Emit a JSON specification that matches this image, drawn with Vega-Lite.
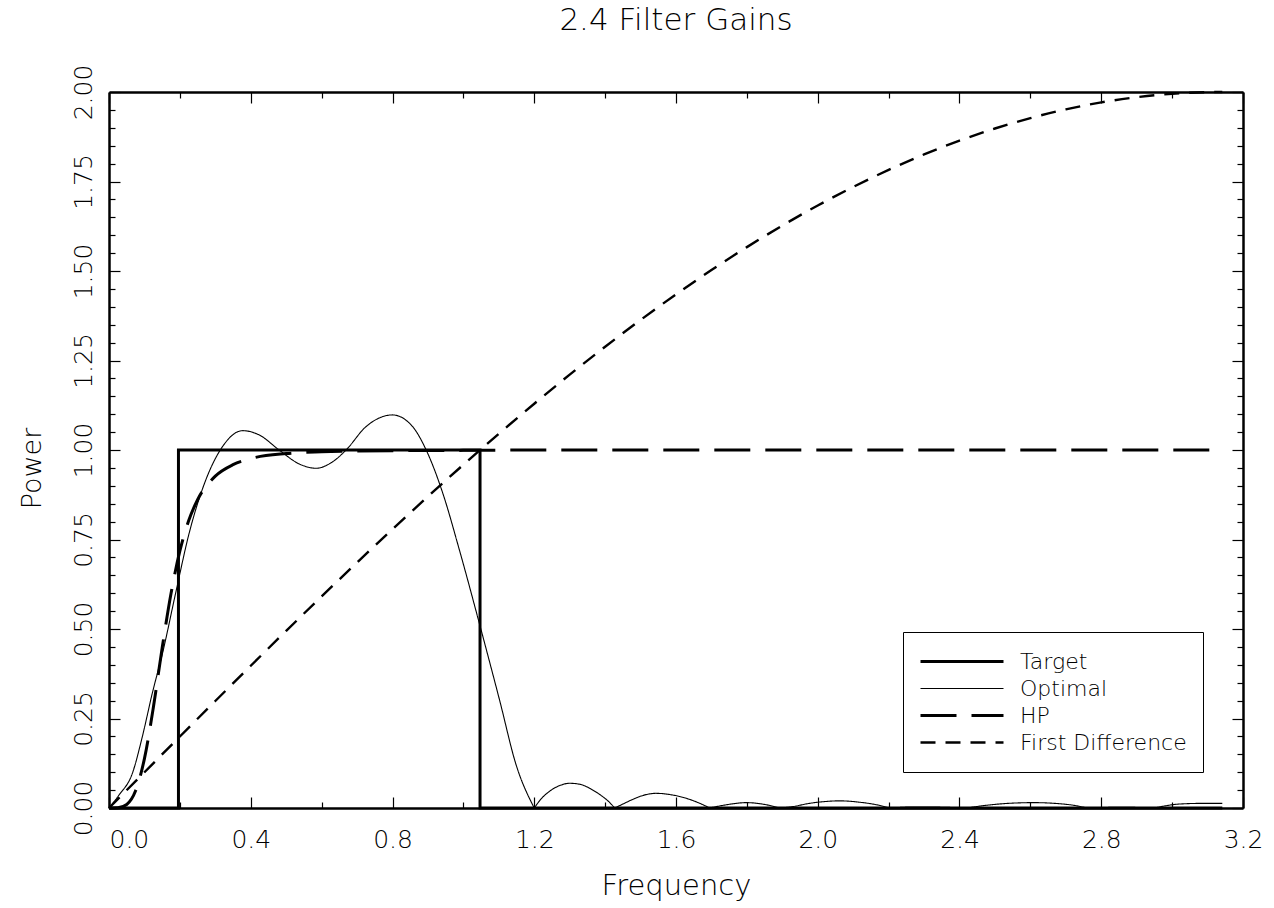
{
  "$schema": "https://vega.github.io/schema/vega-lite/v6.json",
  "width": 1134,
  "height": 716,
  "autosize": {"type": "none"},
  "padding": {"left": 109, "top": 92, "right": 31, "bottom": 100},
  "background": "white",
  "title": {"text": "2.4 Filter Gains", "fontSize": 31, "fontWeight": 200, "font": "DejaVu Sans", "anchor": "middle", "baseline": "alphabetic", "offset": 25, "dy": 22, "color": "black"},
  "data": {"values": [
    {"s": "Target", "seg": "t", "i": 0, "x": 0, "y": 0},
    {"s": "Target", "seg": "t", "i": 1, "x": 0.196, "y": 0},
    {"s": "Target", "seg": "t", "i": 2, "x": 0.196, "y": 1},
    {"s": "Target", "seg": "t", "i": 3, "x": 1.047, "y": 1},
    {"s": "Target", "seg": "t", "i": 4, "x": 1.047, "y": 0},
    {"s": "Target", "seg": "t", "i": 5, "x": 3.1416, "y": 0},

    {"s": "Optimal", "seg": "o1", "x": 0, "y": 0},
    {"s": "Optimal", "seg": "o1", "x": 0.028, "y": 0.036},
    {"s": "Optimal", "seg": "o1", "x": 0.066, "y": 0.097},
    {"s": "Optimal", "seg": "o1", "x": 0.094, "y": 0.199},
    {"s": "Optimal", "seg": "o1", "x": 0.122, "y": 0.32},
    {"s": "Optimal", "seg": "o1", "x": 0.151, "y": 0.432},
    {"s": "Optimal", "seg": "o1", "x": 0.188, "y": 0.6},
    {"s": "Optimal", "seg": "o1", "x": 0.226, "y": 0.767},
    {"s": "Optimal", "seg": "o1", "x": 0.273, "y": 0.916},
    {"s": "Optimal", "seg": "o1", "x": 0.32, "y": 1.009},
    {"s": "Optimal", "seg": "o1", "x": 0.377, "y": 1.054},
    {"s": "Optimal", "seg": "o1", "x": 0.424, "y": 1.042},
    {"s": "Optimal", "seg": "o1", "x": 0.48, "y": 1.0},
    {"s": "Optimal", "seg": "o1", "x": 0.537, "y": 0.961},
    {"s": "Optimal", "seg": "o1", "x": 0.584, "y": 0.949},
    {"s": "Optimal", "seg": "o1", "x": 0.631, "y": 0.967},
    {"s": "Optimal", "seg": "o1", "x": 0.669, "y": 1.0},
    {"s": "Optimal", "seg": "o1", "x": 0.725, "y": 1.065},
    {"s": "Optimal", "seg": "o1", "x": 0.8, "y": 1.098},
    {"s": "Optimal", "seg": "o1", "x": 0.857, "y": 1.065},
    {"s": "Optimal", "seg": "o1", "x": 0.895, "y": 1.0},
    {"s": "Optimal", "seg": "o1", "x": 0.942, "y": 0.879},
    {"s": "Optimal", "seg": "o1", "x": 0.989, "y": 0.72},
    {"s": "Optimal", "seg": "o1", "x": 1.045, "y": 0.516},
    {"s": "Optimal", "seg": "o1", "x": 1.102, "y": 0.302},
    {"s": "Optimal", "seg": "o1", "x": 1.149, "y": 0.12},
    {"s": "Optimal", "seg": "o1", "x": 1.2, "y": 0},

    {"s": "Optimal", "seg": "o2", "x": 1.2, "y": 0},
    {"s": "Optimal", "seg": "o2", "x": 1.22, "y": 0.026},
    {"s": "Optimal", "seg": "o2", "x": 1.245, "y": 0.048},
    {"s": "Optimal", "seg": "o2", "x": 1.27, "y": 0.062},
    {"s": "Optimal", "seg": "o2", "x": 1.3, "y": 0.069},
    {"s": "Optimal", "seg": "o2", "x": 1.33, "y": 0.066},
    {"s": "Optimal", "seg": "o2", "x": 1.36, "y": 0.053},
    {"s": "Optimal", "seg": "o2", "x": 1.39, "y": 0.034},
    {"s": "Optimal", "seg": "o2", "x": 1.41, "y": 0.018},
    {"s": "Optimal", "seg": "o2", "x": 1.427, "y": 0},

    {"s": "Optimal", "seg": "o3", "x": 1.427, "y": 0},
    {"s": "Optimal", "seg": "o3", "x": 1.45, "y": 0.011},
    {"s": "Optimal", "seg": "o3", "x": 1.478, "y": 0.024},
    {"s": "Optimal", "seg": "o3", "x": 1.51, "y": 0.036},
    {"s": "Optimal", "seg": "o3", "x": 1.544, "y": 0.041},
    {"s": "Optimal", "seg": "o3", "x": 1.58, "y": 0.038},
    {"s": "Optimal", "seg": "o3", "x": 1.629, "y": 0.027},
    {"s": "Optimal", "seg": "o3", "x": 1.665, "y": 0.014},
    {"s": "Optimal", "seg": "o3", "x": 1.695, "y": 0},

    {"s": "Optimal", "seg": "o4", "x": 1.695, "y": 0},
    {"s": "Optimal", "seg": "o4", "x": 1.742, "y": 0.009},
    {"s": "Optimal", "seg": "o4", "x": 1.799, "y": 0.015},
    {"s": "Optimal", "seg": "o4", "x": 1.855, "y": 0.009},
    {"s": "Optimal", "seg": "o4", "x": 1.893, "y": 0},

    {"s": "Optimal", "seg": "o5", "x": 1.893, "y": 0},
    {"s": "Optimal", "seg": "o5", "x": 1.93, "y": 0.004},
    {"s": "Optimal", "seg": "o5", "x": 1.977, "y": 0.013},
    {"s": "Optimal", "seg": "o5", "x": 2.02, "y": 0.018},
    {"s": "Optimal", "seg": "o5", "x": 2.062, "y": 0.02},
    {"s": "Optimal", "seg": "o5", "x": 2.119, "y": 0.016},
    {"s": "Optimal", "seg": "o5", "x": 2.166, "y": 0.009},
    {"s": "Optimal", "seg": "o5", "x": 2.203, "y": 0},

    {"s": "Optimal", "seg": "o6", "x": 2.203, "y": 0},
    {"s": "Optimal", "seg": "o6", "x": 2.28, "y": 0.003},
    {"s": "Optimal", "seg": "o6", "x": 2.36, "y": 0.002},
    {"s": "Optimal", "seg": "o6", "x": 2.42, "y": 0},

    {"s": "Optimal", "seg": "o7", "x": 2.42, "y": 0},
    {"s": "Optimal", "seg": "o7", "x": 2.48, "y": 0.008},
    {"s": "Optimal", "seg": "o7", "x": 2.523, "y": 0.012},
    {"s": "Optimal", "seg": "o7", "x": 2.608, "y": 0.015},
    {"s": "Optimal", "seg": "o7", "x": 2.712, "y": 0.009},
    {"s": "Optimal", "seg": "o7", "x": 2.759, "y": 0},

    {"s": "Optimal", "seg": "o8", "x": 2.759, "y": 0},
    {"s": "Optimal", "seg": "o8", "x": 2.86, "y": 0.002},
    {"s": "Optimal", "seg": "o8", "x": 2.95, "y": 0},

    {"s": "Optimal", "seg": "o9", "x": 2.95, "y": 0},
    {"s": "Optimal", "seg": "o9", "x": 3.02, "y": 0.011},
    {"s": "Optimal", "seg": "o9", "x": 3.088, "y": 0.013},
    {"s": "Optimal", "seg": "o9", "x": 3.1416, "y": 0.013},

    {"s": "HP", "seg": "hp", "x": 0, "y": 0},
    {"s": "HP", "seg": "hp", "x": 0.025, "y": 0.0006},
    {"s": "HP", "seg": "hp", "x": 0.05, "y": 0.0099},
    {"s": "HP", "seg": "hp", "x": 0.075, "y": 0.048},
    {"s": "HP", "seg": "hp", "x": 0.1, "y": 0.138},
    {"s": "HP", "seg": "hp", "x": 0.125, "y": 0.28},
    {"s": "HP", "seg": "hp", "x": 0.15, "y": 0.447},
    {"s": "HP", "seg": "hp", "x": 0.175, "y": 0.599},
    {"s": "HP", "seg": "hp", "x": 0.2, "y": 0.718},
    {"s": "HP", "seg": "hp", "x": 0.225, "y": 0.803},
    {"s": "HP", "seg": "hp", "x": 0.25, "y": 0.861},
    {"s": "HP", "seg": "hp", "x": 0.3, "y": 0.927},
    {"s": "HP", "seg": "hp", "x": 0.35, "y": 0.959},
    {"s": "HP", "seg": "hp", "x": 0.4, "y": 0.976},
    {"s": "HP", "seg": "hp", "x": 0.5, "y": 0.99},
    {"s": "HP", "seg": "hp", "x": 0.6, "y": 0.995},
    {"s": "HP", "seg": "hp", "x": 0.7, "y": 0.997},
    {"s": "HP", "seg": "hp", "x": 0.8, "y": 0.998},
    {"s": "HP", "seg": "hp", "x": 1.0, "y": 0.999},
    {"s": "HP", "seg": "hp", "x": 1.2, "y": 1.0},
    {"s": "HP", "seg": "hp", "x": 1.6, "y": 1.0},
    {"s": "HP", "seg": "hp", "x": 2.0, "y": 1.0},
    {"s": "HP", "seg": "hp", "x": 2.4, "y": 1.0},
    {"s": "HP", "seg": "hp", "x": 2.8, "y": 1.0},
    {"s": "HP", "seg": "hp", "x": 3.1416, "y": 1.0},

    {"s": "First Difference", "seg": "fd", "x": 0, "y": 0},
    {"s": "First Difference", "seg": "fd", "x": 0.1, "y": 0.0999},
    {"s": "First Difference", "seg": "fd", "x": 0.2, "y": 0.1997},
    {"s": "First Difference", "seg": "fd", "x": 0.3, "y": 0.2989},
    {"s": "First Difference", "seg": "fd", "x": 0.4, "y": 0.3973},
    {"s": "First Difference", "seg": "fd", "x": 0.5, "y": 0.4948},
    {"s": "First Difference", "seg": "fd", "x": 0.6, "y": 0.591},
    {"s": "First Difference", "seg": "fd", "x": 0.7, "y": 0.6857},
    {"s": "First Difference", "seg": "fd", "x": 0.8, "y": 0.7788},
    {"s": "First Difference", "seg": "fd", "x": 0.9, "y": 0.87},
    {"s": "First Difference", "seg": "fd", "x": 1.0, "y": 0.9589},
    {"s": "First Difference", "seg": "fd", "x": 1.1, "y": 1.0453},
    {"s": "First Difference", "seg": "fd", "x": 1.2, "y": 1.1293},
    {"s": "First Difference", "seg": "fd", "x": 1.3, "y": 1.2104},
    {"s": "First Difference", "seg": "fd", "x": 1.4, "y": 1.2884},
    {"s": "First Difference", "seg": "fd", "x": 1.5, "y": 1.3633},
    {"s": "First Difference", "seg": "fd", "x": 1.6, "y": 1.4347},
    {"s": "First Difference", "seg": "fd", "x": 1.7, "y": 1.5025},
    {"s": "First Difference", "seg": "fd", "x": 1.8, "y": 1.5667},
    {"s": "First Difference", "seg": "fd", "x": 1.9, "y": 1.6269},
    {"s": "First Difference", "seg": "fd", "x": 2.0, "y": 1.6829},
    {"s": "First Difference", "seg": "fd", "x": 2.1, "y": 1.7348},
    {"s": "First Difference", "seg": "fd", "x": 2.2, "y": 1.7824},
    {"s": "First Difference", "seg": "fd", "x": 2.3, "y": 1.8255},
    {"s": "First Difference", "seg": "fd", "x": 2.4, "y": 1.8641},
    {"s": "First Difference", "seg": "fd", "x": 2.5, "y": 1.898},
    {"s": "First Difference", "seg": "fd", "x": 2.6, "y": 1.9271},
    {"s": "First Difference", "seg": "fd", "x": 2.7, "y": 1.9515},
    {"s": "First Difference", "seg": "fd", "x": 2.8, "y": 1.9711},
    {"s": "First Difference", "seg": "fd", "x": 2.9, "y": 1.9854},
    {"s": "First Difference", "seg": "fd", "x": 3.0, "y": 1.995},
    {"s": "First Difference", "seg": "fd", "x": 3.1, "y": 1.9996},
    {"s": "First Difference", "seg": "fd", "x": 3.1416, "y": 2.0}
  ]},
  "resolve": {"axis": {"x": "independent", "y": "independent"}},
  "layer": [
    {
      "transform": [{"filter": "datum.s == 'Target'"}],
      "mark": {"type": "line", "color": "black", "interpolate": "linear", "strokeCap": "butt"},
      "encoding": {
        "x": {"field": "x", "type": "quantitative",
          "scale": {"domain": [0, 3.2], "nice": false, "zero": false},
          "axis": {"orient": "bottom", "title": "Frequency",
            "values": [0,0.2,0.4,0.6,0.8,1,1.2,1.4,1.6,1.8,2,2.2,2.4,2.6,2.8,3,3.2],
            "tickSize": {"expr": "abs(datum.value*2.5 - round(datum.value*2.5)) < 0.001 ? -11 : -6"},
            "labelExpr": "abs(datum.value*2.5 - round(datum.value*2.5)) < 0.001 ? format(datum.value, '.1f') : ''",
            "labelAlign": {"expr": "datum.value == 0 ? 'left' : 'center'"},
            "labelBaseline": "top", "labelPadding": 30, "labelFontSize": 25, "labelOverlap": false, "labelFlush": false,
            "titleFontSize": 29, "titleX": 567, "titleY": 77, "titleBaseline": "middle", "titleAlign": "center"}},
        "y": {"field": "y", "type": "quantitative",
          "scale": {"domain": [0, 2], "nice": false, "zero": false},
          "axis": {"orient": "left", "title": "Power",
            "values": [0,0.05,0.1,0.15,0.2,0.25,0.3,0.35,0.4,0.45,0.5,0.55,0.6,0.65,0.7,0.75,0.8,0.85,0.9,0.95,1,1.05,1.1,1.15,1.2,1.25,1.3,1.35,1.4,1.45,1.5,1.55,1.6,1.65,1.7,1.75,1.8,1.85,1.9,1.95,2],
            "tickSize": {"expr": "abs(datum.value*4 - round(datum.value*4)) < 0.001 ? -11 : -6"},
            "labelExpr": "abs(datum.value*4 - round(datum.value*4)) < 0.001 ? format(datum.value, '.2f') : ''",
            "labelAngle": 270, "labelAlign": "center", "labelBaseline": "middle", "labelPadding": 37,
            "labelFontSize": 25, "labelOverlap": false, "labelFlush": false,
            "titleFontSize": 27, "titleAngle": 270, "titleX": -77, "titleY": 376, "titleAlign": "center", "titleBaseline": "middle"}},
        "order": {"field": "i", "type": "quantitative"},
        "detail": {"field": "seg"},
        "strokeDash": {"field": "s", "type": "nominal",
          "scale": {"type": "ordinal", "domain": ["Target", "Optimal", "HP", "First Difference"], "range": [[1, 0], [1, 0], [36, 15], [15, 10]]}},
        "strokeWidth": {"field": "s", "type": "nominal",
          "scale": {"type": "ordinal", "domain": ["Target", "Optimal", "HP", "First Difference"], "range": [3, 1.1, 3, 2.4]}}
      }
    },
    {
      "transform": [{"filter": "datum.s != 'Target'"}],
      "mark": {"type": "line", "color": "black", "interpolate": "monotone", "strokeCap": "butt"},
      "encoding": {
        "x": {"field": "x", "type": "quantitative",
          "axis": {"orient": "top", "title": null, "labels": false,
            "values": [0,0.2,0.4,0.6,0.8,1,1.2,1.4,1.6,1.8,2,2.2,2.4,2.6,2.8,3,3.2],
            "tickSize": {"expr": "abs(datum.value*2.5 - round(datum.value*2.5)) < 0.001 ? -11 : -6"}}},
        "y": {"field": "y", "type": "quantitative",
          "axis": {"orient": "right", "title": null, "labels": false,
            "values": [0,0.05,0.1,0.15,0.2,0.25,0.3,0.35,0.4,0.45,0.5,0.55,0.6,0.65,0.7,0.75,0.8,0.85,0.9,0.95,1,1.05,1.1,1.15,1.2,1.25,1.3,1.35,1.4,1.45,1.5,1.55,1.6,1.65,1.7,1.75,1.8,1.85,1.9,1.95,2],
            "tickSize": {"expr": "abs(datum.value*4 - round(datum.value*4)) < 0.001 ? -11 : -6"}}},
        "detail": {"field": "seg"},
        "strokeDash": {"field": "s", "type": "nominal",
          "scale": {"type": "ordinal", "domain": ["Target", "Optimal", "HP", "First Difference"], "range": [[1, 0], [1, 0], [36, 15], [15, 10]]}},
        "strokeWidth": {"field": "s", "type": "nominal",
          "scale": {"type": "ordinal", "domain": ["Target", "Optimal", "HP", "First Difference"], "range": [3, 1.1, 3, 2.4]}}
      }
    }
  ],
  "config": {
    "font": "DejaVu Sans",
    "view": {"stroke": null},
    "axis": {"grid": false, "domainColor": "black", "domainWidth": 2.5, "tickColor": "black", "tickWidth": 1.2,
      "labelColor": "black", "titleColor": "black", "labelFont": "DejaVu Sans", "titleFont": "DejaVu Sans",
      "labelFontWeight": 200, "titleFontWeight": 200},
    "legend": {"orient": "none", "legendX": 794, "legendY": 540, "title": null,
      "strokeColor": "black", "fillColor": "white", "padding": 16, "cornerRadius": 0,
      "symbolType": "stroke", "symbolSize": 6889, "symbolStrokeColor": "black", "clipHeight": 27,
      "labelFontSize": 22, "labelLimit": 400, "labelFont": "DejaVu Sans", "labelFontWeight": 200, "labelColor": "black", "labelOffset": 15, "rowPadding": 0}
  }
}
